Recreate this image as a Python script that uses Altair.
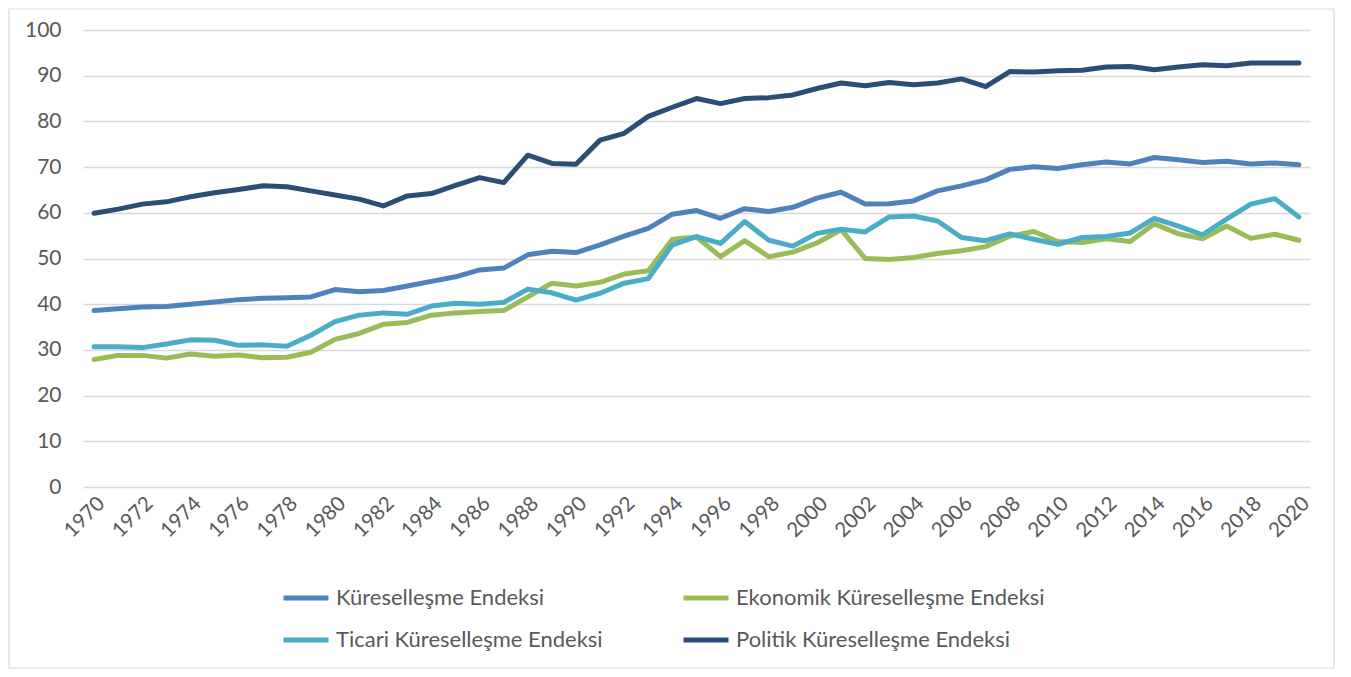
import altair as alt
import pandas as pd

years = list(range(1970, 2021))

kuresel = [38.6, 39.0, 39.4, 39.5, 40.0, 40.5, 41.0, 41.3, 41.4, 41.6,
           43.2, 42.7, 43.0, 44.0, 45.0, 46.0, 47.5, 47.9, 50.8, 51.6,
           51.3, 53.0, 54.9, 56.6, 59.7, 60.5, 58.8, 60.9, 60.3, 61.2,
           63.2, 64.5, 61.9, 62.0, 62.6, 64.8, 65.9, 67.2, 69.5, 70.1,
           69.7, 70.5, 71.1, 70.7, 72.1, 71.6, 71.0, 71.3, 70.7, 70.9, 70.5]

ekonomik = [27.9, 28.8, 28.8, 28.2, 29.1, 28.6, 28.9, 28.3, 28.4, 29.5,
            32.3, 33.6, 35.6, 36.0, 37.6, 38.1, 38.4, 38.6, 41.6, 44.6,
            44.0, 44.8, 46.6, 47.3, 54.2, 54.7, 50.4, 53.9, 50.4, 51.4,
            53.4, 56.3, 50.0, 49.8, 50.2, 51.1, 51.7, 52.6, 54.9, 55.9,
            53.7, 53.5, 54.3, 53.7, 57.6, 55.4, 54.3, 57.1, 54.4, 55.3, 54.0]

ticari = [30.7, 30.7, 30.5, 31.3, 32.2, 32.1, 31.0, 31.1, 30.8, 33.2,
          36.2, 37.6, 38.1, 37.8, 39.6, 40.2, 40.0, 40.4, 43.3, 42.5,
          40.9, 42.4, 44.6, 45.6, 53.0, 54.8, 53.3, 58.1, 54.0, 52.7,
          55.5, 56.4, 55.8, 59.1, 59.3, 58.2, 54.6, 53.9, 55.4, 54.2,
          53.1, 54.6, 54.8, 55.6, 58.8, 57.1, 55.2, 58.6, 61.9, 63.1, 59.1]

politik = [59.9, 60.8, 61.9, 62.4, 63.5, 64.4, 65.1, 65.9, 65.7, 64.8,
           63.9, 63.0, 61.5, 63.7, 64.2, 66.0, 67.7, 66.6, 72.6, 70.8,
           70.6, 75.9, 77.4, 81.1, 83.1, 85.0, 83.9, 85.0, 85.2, 85.8,
           87.2, 88.4, 87.8, 88.5, 88.0, 88.4, 89.3, 87.6, 90.9, 90.8,
           91.1, 91.2, 91.9, 92.0, 91.3, 91.9, 92.4, 92.2, 92.8, 92.8, 92.8]

series_names = ["Küreselleşme Endeksi", "Ekonomik Küreselleşme Endeksi",
                "Ticari Küreselleşme Endeksi", "Politik Küreselleşme Endeksi"]
series_colors = ["#4f81bd", "#9bbb59", "#4bacc6", "#2c4d75"]
x_tick_years = list(range(1970, 2021, 2))
y_ticks = list(range(0, 101, 10))

rows = []
for name, vals in zip(series_names, [kuresel, ekonomik, ticari, politik]):
    for yr, v in zip(years, vals):
        rows.append({"Yıl": yr, "Değer": v, "Seri": name})
df = pd.DataFrame(rows)

FONT = "Lato"
TXT = "#595959"
W, H = 1227, 457
PAD = {"left": 75, "top": 22, "right": 25, "bottom": 182}

lines = alt.Chart(df).mark_line(strokeWidth=5, strokeCap="round", strokeJoin="round").encode(
    x=alt.X("Yıl:Q",
            scale=alt.Scale(domain=[1969.54, 2020.46], nice=False, zero=False),
            axis=alt.Axis(values=x_tick_years, format="d", labelAngle=-45, ticks=False,
                          domain=False, grid=False, title=None, labelPadding=6,
                          labelOverlap=False,
                          labelFontSize=20.5, labelFont=FONT, labelColor=TXT)),
    y=alt.Y("Değer:Q",
            scale=alt.Scale(domain=[0, 100], nice=False),
            axis=alt.Axis(values=y_ticks, ticks=False, domain=False, title=None,
                          gridColor="#d9d9d9", gridWidth=1.3, labelPadding=22,
                          labelFontSize=21, labelFont=FONT, labelColor=TXT)),
    color=alt.Color("Seri:N",
                    scale=alt.Scale(domain=series_names, range=series_colors),
                    sort=series_names,
                    legend=alt.Legend(orient="none", legendX=198, legendY=543,
                                      direction="horizontal", columns=2,
                                      columnPadding=70, rowPadding=6, title=None,
                                      symbolType="stroke", symbolStrokeWidth=5,
                                      symbolSize=2025, labelOffset=5, labelLimit=500,
                                      labelFontSize=22, labelFont=FONT, labelColor=TXT)),
    detail="Seri:N",
)

border = alt.Chart(alt.Data(values=[{}])).mark_rect(
    filled=False, stroke="#d9d9d9", strokeWidth=1.2
).encode(
    x=alt.value(-PAD["left"] + 1),
    x2=alt.value(W + PAD["right"] - 1),
    y=alt.value(-PAD["top"] + 1),
    y2=alt.value(H + PAD["bottom"] - 1),
)

chart = alt.layer(border, lines).properties(
    width=W, height=H,
    padding=PAD,
    autosize=alt.AutoSizeParams(type="none"),
    background="white",
).configure_view(stroke=None)

chart.save("out.html", embed_options={"renderer": "svg", "actions": False})
